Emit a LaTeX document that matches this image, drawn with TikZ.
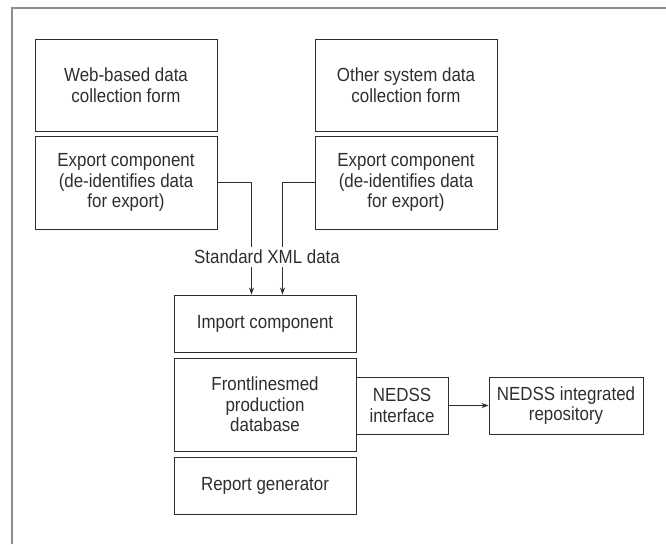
\documentclass[tikz,border=0pt]{standalone}
\usepackage{fontspec}
\setmainfont{Liberation Sans}[FakeStretch=0.89]
\usepackage{tikz}
\usetikzlibrary{arrows.meta}

\definecolor{ink}{HTML}{2E2E2E}
\definecolor{frame}{HTML}{8E8E8E}

\begin{document}
\begin{tikzpicture}[x=1pt, y=-1pt,
every node/.style={align=center, text=ink, font=\fontsize{19}{20.5}\selectfont},
block/.style={draw=ink, line width=0.9pt, minimum width=182pt, inner sep=0pt},
link/.style={draw=ink, line width=0.9pt},
flow/.style={link, -{Stealth[length=7pt, width=5pt]}}]

\useasboundingbox (0,0) rectangle (666,544);

% Frame
\draw[frame, line width=1.6pt] (12,544) -- (12,8) -- (666,8);

% Top Row
\node[block, minimum height=92pt] (webform) at (126,85)
{Web-based data\\collection form};

\node[block, minimum height=93pt] (webexport) at (126,182.5)
{Export component\\(de-identifies data\\for export)};

\node[block, minimum height=92pt] (otherform) at (406,85)
{Other system data\\collection form};

\node[block, minimum height=93pt] (otherexport) at (406,182.5)
{Export component\\(de-identifies data\\for export)};

% Middle
\node[inner sep=3pt] (xml) at (267,257)
{Standard XML data};

\node[block, minimum height=57pt] (import) at (265,323.5)
{Import component};

\node[block, minimum height=93pt] (database) at (265,404.5)
{Frontlinesmed\\production\\database};

\node[block, minimum width=92pt, minimum height=57pt] (nedss) at (402,405.5)
{NEDSS\\interface};

\node[block, minimum width=154pt, minimum height=57pt] (repository) at (566,405.5)
{NEDSS integrated\\repository};

% Bottom Row
\node[block, minimum height=57pt] (report) at (265,485.5)
{Report generator};

% Arrows
\draw[link] (webexport.east) -| ([xshift=-15.5pt]xml.north);
\draw[link] (otherexport.west) -| ([xshift=15.5pt]xml.north);

\draw[flow] ([xshift=-15.5pt]xml.south) -- ([xshift=-15.5pt]xml.south |- import.north);
\draw[flow] ([xshift=15.5pt]xml.south) -- ([xshift=15.5pt]xml.south |- import.north);

\draw[flow] (nedss) -- (repository);

\end{tikzpicture}
\end{document}
